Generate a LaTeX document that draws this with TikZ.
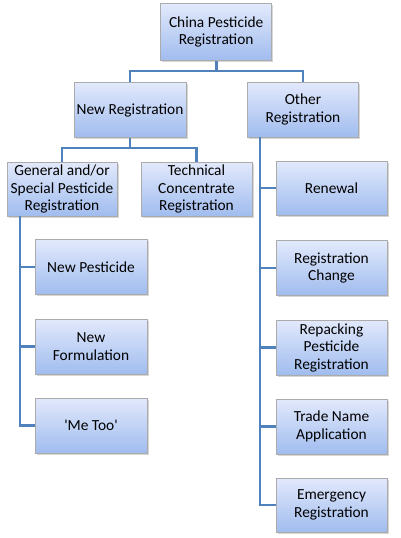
\documentclass[tikz,border=0pt]{standalone}
\usepackage{fontspec}
\setmainfont{Carlito}
\usetikzlibrary{shadows}
\begin{document}
\begin{tikzpicture}[x=1pt,y=-1pt,
  box/.style={draw=black!33, line width=0.6pt, top color={rgb,255:red,226;green,233;blue,252}, bottom color={rgb,255:red,160;green,188;blue,238},
    minimum width=111pt, minimum height=55pt, align=center, inner sep=1pt,
    font=\fontsize{15.4}{17.5}\selectfont,
    drop shadow={shadow xshift=1.5pt, shadow yshift=-1.5pt, fill=black!40, opacity=0.4}},
  conn/.style={draw={rgb,255:red,79;green,129;blue,189}, line width=2.6pt}]
\useasboundingbox (0,0) rectangle (400,538);
\fill[white] (0,0) rectangle (400,538);
\node[box, minimum width=111pt, minimum height=57pt] (root) at (216.2,32) {China Pesticide\\Registration};
\node[box, minimum width=112pt] (new) at (130,110) {New Registration};
\node[box] (other) at (303,109.5) {Other\\Registration};
\node[box, minimum width=110pt, minimum height=54pt] (gen) at (62,189) {General and/or\\Special Pesticide\\Registration};
\node[box, minimum height=54pt] (tech) at (196.5,189) {Technical\\Concentrate\\Registration};
\node[box, minimum width=112pt] (np) at (91,267) {New Pesticide};
\node[box, minimum width=112pt] (nf) at (91,346.5) {New\\Formulation};
\node[box, minimum width=112pt] (mt) at (91,425.5) {\addfontfeature{Ligatures=TeXOff}'Me Too'};
\node[box, minimum height=54pt] (ren) at (331.5,188) {Renewal};
\node[box] (rc) at (331.5,268) {Registration\\Change};
\node[box] (rp) at (331.5,347.5) {Repacking\\Pesticide\\Registration};
\node[box] (tn) at (331.5,426.5) {Trade Name\\Application};
\node[box, minimum height=54pt] (em) at (331.5,505) {Emergency\\Registration};
\coordinate (h1) at (216.2,71);
\draw[conn] (root.south) -- (h1);
\draw[conn] (new.north) |- (h1) -| (other.north);
\coordinate (h2) at (130,148);
\draw[conn] (new.south) -- (h2);
\draw[conn] (gen.north) |- (h2) -| (tech.north);
\coordinate (lv) at (20,216);
\draw[conn] (lv) |- (np.west);
\draw[conn] (lv) |- (nf.west);
\draw[conn] (lv) |- (mt.west);
\coordinate (rv) at (260,137);
\draw[conn] (rv) |- (ren.west);
\draw[conn] (rv) |- (rc.west);
\draw[conn] (rv) |- (rp.west);
\draw[conn] (rv) |- (tn.west);
\draw[conn] (rv) |- (em.west);
\end{tikzpicture}
\end{document}
